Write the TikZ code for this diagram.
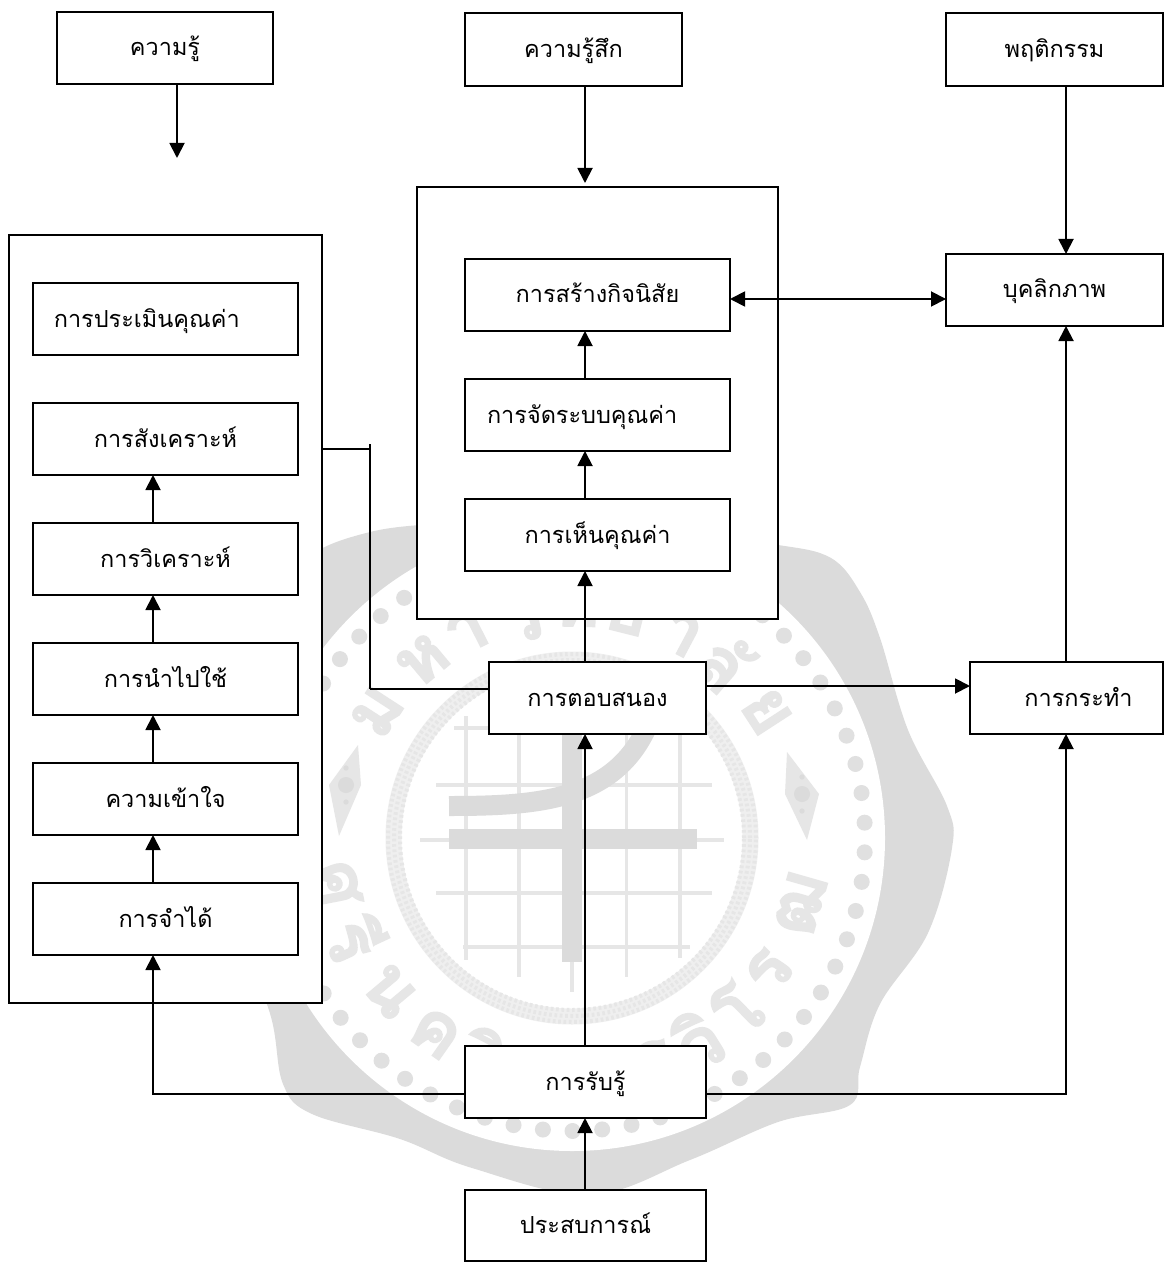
\documentclass[tikz,border=0pt]{standalone}
\usepackage{fontspec}
\usetikzlibrary{arrows.meta}
\newfontfamily\thaifont[Script=Thai]{Loma}
\newfontfamily\thaibold[Script=Thai,FakeBold=2]{Loma Bold}
\definecolor{wmblob}{HTML}{DBDBDB}
\definecolor{wmlite}{HTML}{E6E6E6}
\definecolor{wmring}{HTML}{EFEFEF}
\definecolor{wmdot}{HTML}{E0E0E0}
\tikzset{
  x=0.75pt,y=-0.75pt,
  bx/.style 2 args={draw=black,fill=white,line width=1.4pt,inner sep=0pt,outer sep=0pt,
    minimum width=#1*0.75pt,minimum height=#2*0.75pt,
    font=\thaifont\fontsize{17.6}{20}\selectfont,text height=12pt,text depth=0pt},
  con/.style={draw=black,line width=1.4pt},
  arr/.style={con,-{Triangle[length=11.25pt,width=11.25pt]}},
  darr/.style={con,{Triangle[length=11.25pt,width=11.25pt]}-{Triangle[length=11.25pt,width=11.25pt]}},
  wmletter/.style={text=wmlite,inner sep=0pt,font=\thaibold\fontsize{54}{56}\selectfont},
  wmgrid/.style={draw=wmlite,line width=2.6pt},
  wmbar/.style={draw=wmblob,line width=15pt},
}
\begin{document}
\begin{tikzpicture}
\useasboundingbox (0,0) rectangle (1176,1262);
% ---- watermark seal
\fill[wmblob] plot[smooth cycle,tension=0.6] coordinates {
 (572,518) (680,535) (778,545) (831,558) (860,592) (880,638) (908,730) (947,806) (952,848) (928,933)
 (880,1004) (860,1067) (850,1105) (778,1122) (690,1160) (590,1195) (472,1168) (400,1139) (312,1114)
 (283,1084) (271,1017) (240,930) (220,840) (250,730) (275,640) (300,565) (370,532) (470,522)};
\fill[white] (572,838) circle[radius=313*0.75pt];
\foreach \a in {0,...,61}
  \fill[wmdot] ({572+293*cos(\a*5.806-3)},{838+293*sin(\a*5.806-3)}) circle[radius=6pt];
% ring
\draw[wmring,line width=12pt] (572,838) circle[radius=178.5*0.75pt];
\draw[wmlite,line width=3pt,dash pattern=on 2pt off 2pt] (572,838) circle[radius=172*0.75pt];
\draw[wmlite,line width=3pt,dash pattern=on 2pt off 2pt] (572,838) circle[radius=178*0.75pt];
\draw[wmlite,line width=3pt,dash pattern=on 2pt off 2pt] (572,838) circle[radius=184*0.75pt];
% grid
\draw[wmgrid] (466,716)--(466,960);
\draw[wmgrid] (519,700)--(519,977);
\draw[wmgrid] (626.5,700)--(626.5,977);
\draw[wmgrid] (680,700)--(680,958);
\draw[wmgrid] (572,940)--(572,992);
\draw[wmgrid] (454,728)--(500,728);
\draw[wmgrid] (436,785)--(712,785);
\draw[wmgrid] (420,840)--(724,840);
\draw[wmgrid] (436,893)--(712,893);
\draw[wmgrid] (463,947)--(690,947);
% thick bars
\draw[wmbar] (572,700)--(572,962);
\draw[wmbar] (449,838.5)--(697,838.5);
\draw[wmbar] (449,806) .. controls (540,806) and (615,800) .. (648,725);
% ornaments
\fill[wmlite] (358,745)--(361,785)--(339,836)--(329,785)--cycle;
\fill[wmlite] (787,752)--(819,794)--(807,840)--(785,794)--cycle;
\fill[wmblob] (346,768) circle[radius=2pt] (346,785) circle[radius=6pt] (346,802) circle[radius=2pt];
\fill[wmblob] (802,777) circle[radius=2pt] (802,794) circle[radius=6pt] (802,811) circle[radius=2pt];
% seal lettering
\foreach \ang/\ch in {-57/ม,-40/ห,-27/า,-13/วิ,1/ท,14/ย,28/า,41/ลั,57/ย}
  \node[wmletter,rotate=-\ang] at ({572+232*sin(\ang)},{838-232*cos(\ang)}) {\ch};
\foreach \ang/\ch in {-79/ศ,-65/รี,-50/น,-35/ค,-22/ริ,-8/น,6/ท,20/ร,32/วิ,44/โ,56/ร,74/ฒ}
  \node[wmletter,rotate=\ang] at ({572+238*sin(\ang)},{838+238*cos(\ang)}) {\ch};
% ---- helper coordinates for connector lines
\coordinate (xa) at (177,0);
\coordinate (xb) at (153,0);
\coordinate (xc) at (585,0);
\coordinate (xd) at (1066,0);
\coordinate (xe) at (370,0);
\coordinate (ya) at (0,299);
\coordinate (yb) at (0,686);
\coordinate (yc) at (0,1094);
\coordinate (yd) at (0,449);
\coordinate (ye) at (0,689);
\coordinate (yf) at (0,444);
\coordinate (kfree) at (177,158);
\coordinate (fbtop) at (585,183);
% ---- containers
\node[bx={313}{768}] (leftbox) at (165.5,619) {};
\node[bx={361}{432}] (midbox) at (597.5,403) {};
% ---- boxes
\node[bx={216}{72}] (know) at (165,48) {ความรู้};
\node[bx={217}{73}] (feel) at (573.5,49.5) {ความรู้สึก};
\node[bx={217}{73}] (behav) at (1054.5,49.5) {พฤติกรรม};
\node[bx={265}{72}] (eval) at (165.5,319) {\hspace*{-28pt}การประเมินคุณค่า};
\node[bx={265}{72}] (synth) at (165.5,439) {การสังเคราะห์};
\node[bx={265}{72}] (anal) at (165.5,559) {การวิเคราะห์};
\node[bx={265}{72}] (apply) at (165.5,679) {การนำไปใช้};
\node[bx={265}{72}] (under) at (165.5,799) {ความเข้าใจ};
\node[bx={265}{72}] (recog) at (165.5,919) {การจำได้};
\node[bx={265}{72}] (habit) at (597.5,295) {การสร้างกิจนิสัย};
\node[bx={265}{72}] (orgv) at (597.5,415) {\hspace*{-23pt}การจัดระบบคุณค่า};
\node[bx={265}{72}] (seev) at (597.5,535) {การเห็นคุณค่า};
\node[bx={217}{72}] (pers) at (1054.5,290) {บุคลิกภาพ};
\node[bx={217}{72}] (resp) at (597.5,698) {การตอบสนอง};
\node[bx={193}{72}] (act) at (1066.5,698) {\hspace*{18pt}การกระทำ};
\node[bx={241}{72}] (perc) at (585.5,1082) {การรับรู้};
\node[bx={241}{71}] (exper) at (585.5,1225.5) {ประสบการณ์};
% ---- connectors
\draw[arr] (know.south -| xa) -- (kfree);
\draw[arr] (feel.south -| xc) -- (fbtop);
\draw[arr] (behav.south -| xd) -- (pers.north -| xd);
\draw[arr] (recog.north -| xb) -- (under.south -| xb);
\draw[arr] (under.north -| xb) -- (apply.south -| xb);
\draw[arr] (apply.north -| xb) -- (anal.south -| xb);
\draw[arr] (anal.north -| xb) -- (synth.south -| xb);
\draw[arr] (seev.north -| xc) -- (orgv.south -| xc);
\draw[arr] (orgv.north -| xc) -- (habit.south -| xc);
\draw[arr] (resp.north -| xc) -- (seev.south -| xc);
\draw[darr] (habit.east |- ya) -- (pers.west |- ya);
\draw[arr] (act.north -| xd) -- (pers.south -| xd);
\draw[arr] (resp.east |- yb) -- (act.west |- yb);
\draw[arr] (perc.north -| xc) -- (resp.south -| xc);
\draw[arr] (exper.north -| xc) -- (perc.south -| xc);
\draw[arr] (perc.east |- yc) -- (xd |- yc) -- (act.south -| xd);
\draw[arr] (perc.west |- yc) -- (xb |- yc) -- (recog.south -| xb);
\draw[con] (leftbox.east |- yd) -- (xe |- yd);
\draw[con] (xe |- yf) -- (xe |- ye);
\draw[con] (xe |- ye) -- (resp.west |- ye);
\end{tikzpicture}
\end{document}
